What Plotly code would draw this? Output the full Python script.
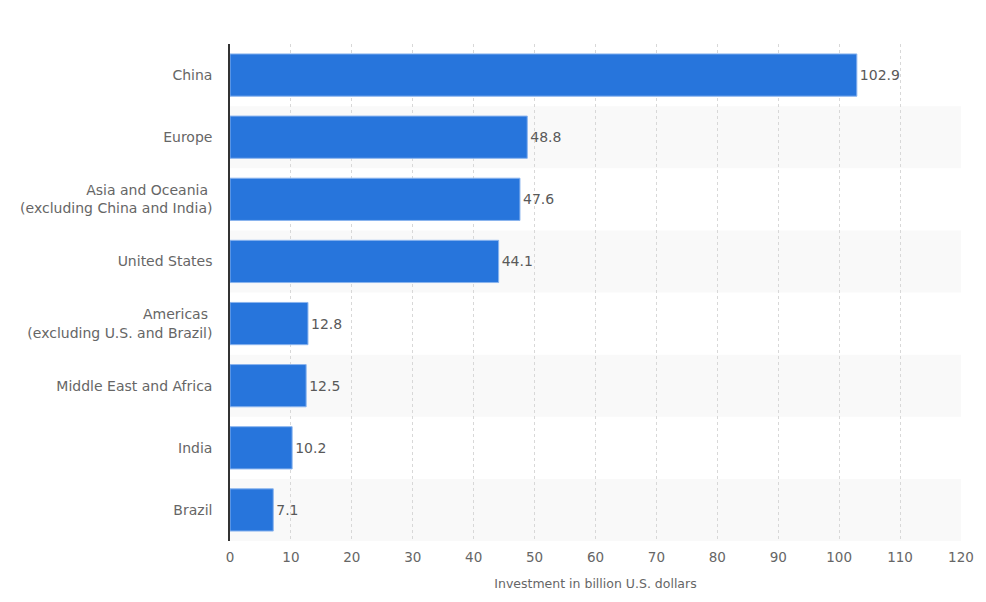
import plotly.graph_objects as go

regions = ["China", "Europe", "Asia and Oceania <br>(excluding China and India)", "United States",
           "Americas <br>(excluding U.S. and Brazil)", "Middle East and Africa", "India", "Brazil"]
values = [102.9, 48.8, 47.6, 44.1, 12.8, 12.5, 10.2, 7.1]
x_ticks = list(range(0, 121, 10))

FONT = "DejaVu Sans"

fig = go.Figure()
fig.add_trace(go.Bar(
    y=regions, x=values, orientation="h",
    marker=dict(color="#2775dc", line=dict(color="#8ab4ee", width=1)),
    width=0.68,
    text=[f"{v:.1f}" for v in values], textposition="outside",
    textfont=dict(family=FONT, size=14, color="#595959"),
    cliponaxis=False,
))

shapes = []
for i in range(len(regions)):
    if i % 2 == 1:
        shapes.append(dict(type="rect", xref="paper", yref="y", x0=0, x1=1,
                           y0=i - 0.5, y1=i + 0.5, fillcolor="#f9f9f9",
                           line=dict(width=0), layer="below"))

fig.update_layout(
    width=986, height=602,
    margin=dict(l=220, r=33, t=36, b=69),
    paper_bgcolor="white", plot_bgcolor="white",
    showlegend=False,
    shapes=shapes,
    xaxis=dict(range=[0, 120], tickvals=x_ticks, showgrid=True, gridcolor="#d8d8d8",
               griddash="dot", gridwidth=1, zeroline=False,
               tickfont=dict(family=FONT, size=13.5, color="#666666"),
               ticklabelstandoff=6,
               title=dict(text="Investment in billion U.S. dollars", standoff=15,
                          font=dict(family=FONT, size=12.5, color="#666666")),
               ticks="", fixedrange=True),
    yaxis=dict(autorange="reversed", showline=True, linecolor="#333333", linewidth=1.5,
               showgrid=False, ticks="", ticklabelstandoff=13,
               tickfont=dict(family=FONT, size=14, color="#666666")),
)
fig.write_html("out.html")
